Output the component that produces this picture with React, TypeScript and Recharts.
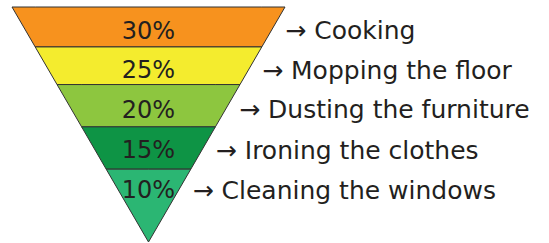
import React from 'react';
import { ComposedChart, Area, Scatter, XAxis, YAxis } from 'recharts';

const categories = ['Cooking', 'Mopping the floor', 'Dusting the furniture', 'Ironing the clothes', 'Cleaning the windows'];
const shares = [30, 25, 20, 15, 10];
const bandEdges = [0, 17, 33, 51, 69, 100];
const labelDepths = [10, 27, 43.8, 60.9, 77.9];
const colors = ['#F7921E', '#F4EC2E', '#8DC63F', '#0E9445', '#2BB673'];

const APEX = 100;
const half = (d: number) => APEX - d;

const bandData = categories.map((_, i) => {
  const t = bandEdges[i];
  const b = bandEdges[i + 1];
  return [
    { x: -half(t), r: [t, t] },
    { x: -half(b), r: [t, b] },
    { x: half(b), r: [t, b] },
    { x: half(t), r: [t, t] },
  ];
});

const pctData = shares.map((s, i) => ({ x: 0, y: labelDepths[i], label: `${s}%` }));
const nameData = categories.map((c, i) => ({ x: half(labelDepths[i]), y: labelDepths[i], label: `\u2192 ${c}` }));

const FONT = 'DejaVu Sans, sans-serif';
const TEXT = '#231F20';

const PctShape = (p: any) => (
  <text x={p.cx} y={p.cy} textAnchor="middle" dominantBaseline="central" fontFamily={FONT} fontSize={24} fill={TEXT}>
    {p.payload.label}
  </text>
);
const NameShape = (p: any) => (
  <text x={p.cx + 14} y={p.cy} textAnchor="start" dominantBaseline="central" fontFamily={FONT} fontSize={25} fill={TEXT}>
    {p.payload.label}
  </text>
);

export default function App() {
  return (
    <div style={{ position: 'absolute', left: 0, top: 0, background: '#fff' }}>
      <ComposedChart width={549} height={243} margin={{ top: 7, right: 264, bottom: 1, left: 12 }}>
        <XAxis type="number" dataKey="x" domain={[-100, 100]} hide />
        <YAxis type="number" domain={[0, 100]} reversed hide />
        {bandData.map((d, i) => (
          <Area
            key={categories[i]}
            data={d}
            dataKey="r"
            type="linear"
            fill={colors[i]}
            fillOpacity={1}
            stroke="#333"
            strokeWidth={1}
            isAnimationActive={false}
            dot={false}
            activeDot={false}
          />
        ))}
        <Scatter data={pctData} dataKey="y" shape={PctShape} isAnimationActive={false} />
        <Scatter data={nameData} dataKey="y" shape={NameShape} isAnimationActive={false} />
      </ComposedChart>
    </div>
  );
}
